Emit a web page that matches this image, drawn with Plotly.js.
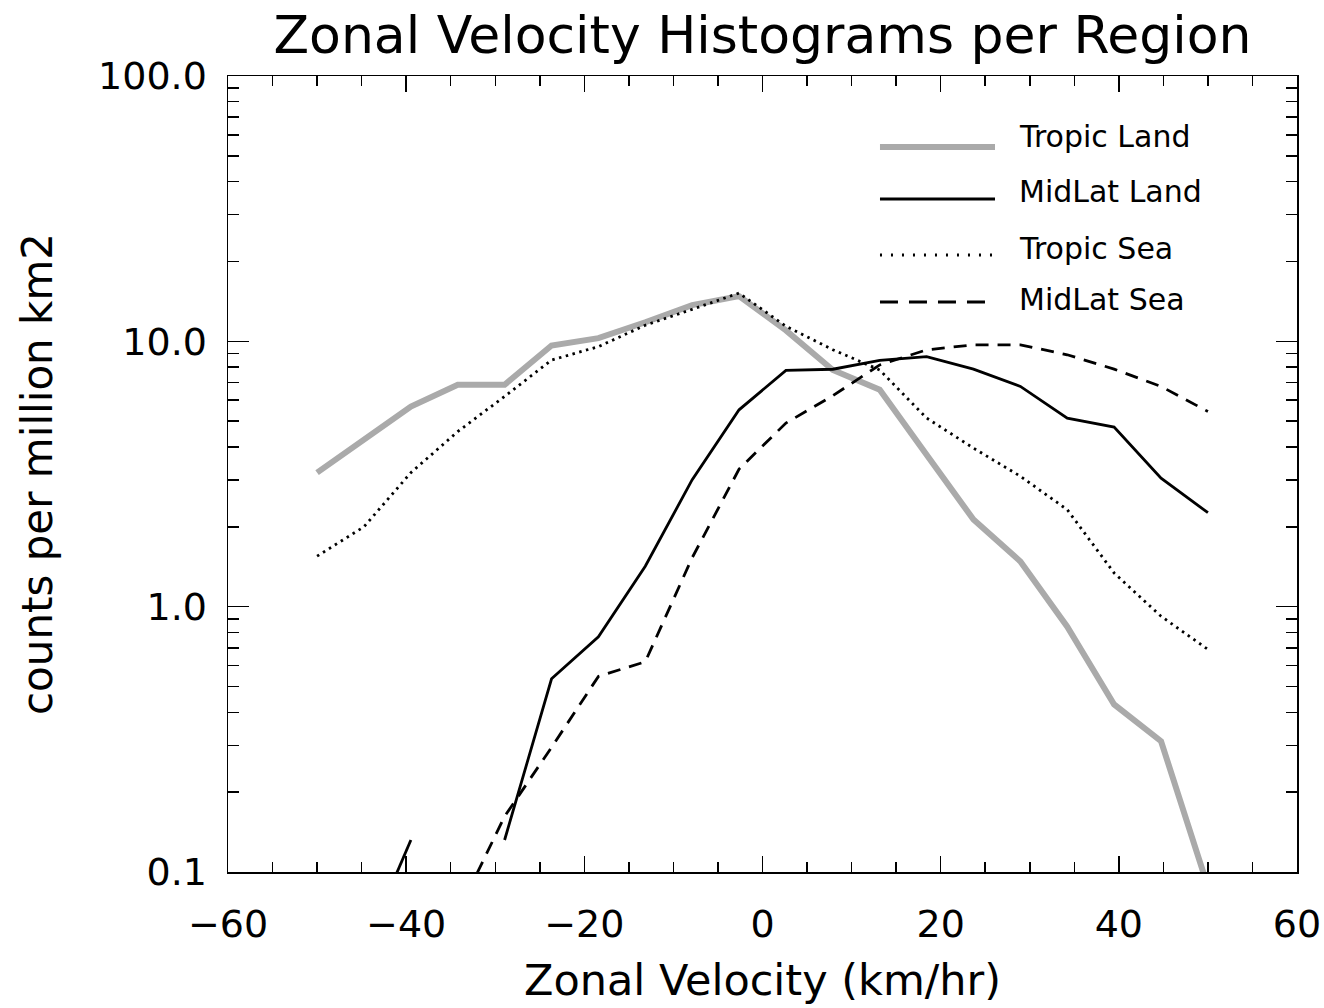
<!DOCTYPE html>
<html>
<head>
<meta charset="utf-8">
<script src="https://cdn.plot.ly/plotly-3.0.1.min.js"></script>
<style>html,body{margin:0;padding:0;background:#fff;}#chart{width:1324px;height:1008px;}</style>
</head>
<body>
<div id="chart"></div>
<script>
// Zonal velocity bin centres (km/hr)
var velocity = [-50, -44.74, -39.47, -34.21, -28.95, -23.68, -18.42, -13.16, -7.89, -2.63,
                2.63, 7.89, 13.16, 18.42, 23.68, 28.95, 34.21, 39.47, 44.74, 50];

// counts per million km2 (null = empty bin)
var tropicLand = [3.2, 4.26, 5.68, 6.86, 6.86, 9.64, 10.28, 11.8, 13.7, 14.8,
                  11.0, 7.8, 6.57, 3.74, 2.13, 1.48, 0.84, 0.428, 0.311, 0.088];
var midLatLand = [null, 0.051, 0.132, null, 0.132, 0.535, 0.77, 1.42, 3.01, 5.52,
                  7.77, 7.85, 8.47, 8.76, 7.86, 6.76, 5.13, 4.75, 3.05, 2.26];
var tropicSea  = [1.55, 2.0, 3.2, 4.57, 6.2, 8.5, 9.55, 11.5, 13.2, 15.2,
                  11.4, 9.3, 7.8, 5.14, 3.96, 3.1, 2.32, 1.34, 0.92, 0.69];
var midLatSea  = [null, null, null, 0.07, 0.162, 0.295, 0.546, 0.62, 1.53, 3.3,
                  4.92, 6.24, 8.15, 9.29, 9.7, 9.7, 8.9, 7.86, 6.76, 5.44];

var seriesNames = ["Tropic Land", "MidLat Land", "Tropic Sea", "MidLat Sea"];

var xTickVals = [-60, -40, -20, 0, 20, 40, 60];
var xTickText = ["\u221260", "\u221240", "\u221220", "0", "20", "40", "60"];
var yTickVals = [0.1, 1, 10, 100];
var yTickText = ["0.1", "1.0", "10.0", "100.0"];

var FONT = "DejaVu Sans, Verdana, sans-serif";

var styles = [
  {color: "rgb(170,170,170)", width: 6, dash: "solid"},
  {color: "black", width: 2.8, dash: "solid"},
  {color: "black", width: 2.8, dash: "2.5px,4.5px"},
  {color: "black", width: 2.8, dash: "13px,9px"}
];
var seriesData = [tropicLand, midLatLand, tropicSea, midLatSea];

var traces = seriesData.map(function (ys, i) {
  return {
    type: "scatter", mode: "lines", name: seriesNames[i],
    x: velocity, y: ys, connectgaps: false,
    line: {color: styles[i].color, width: styles[i].width, dash: styles[i].dash},
    showlegend: false, hoverinfo: "x+y+name"
  };
});

// manual legend (IDL style)
var legLineY = [0.9108, 0.8455, 0.7751, 0.7161];
var legTextY = [0.9246, 0.8543, 0.7839, 0.7186];
var shapes = [], annotations = [];
for (var i = 0; i < seriesNames.length; i++) {
  shapes.push({type: "line", xref: "paper", yref: "paper",
    x0: 0.6099, x1: 0.7175, y0: legLineY[i], y1: legLineY[i],
    line: {color: styles[i].color, width: styles[i].width,
           dash: i === 2 ? "2px,9px" : (i === 3 ? "18px,11px" : "solid")}});
  annotations.push({xref: "paper", yref: "paper", x: 0.7385, y: legTextY[i],
    xanchor: "left", yanchor: "middle", showarrow: false, text: seriesNames[i],
    font: {family: FONT, size: 30, color: "black"}});
}

var minorY = [];
[0.1, 1, 10].forEach(function (d) { for (var k = 2; k <= 9; k++) minorY.push(d * k); });

var layout = {
  width: 1324, height: 1008,
  paper_bgcolor: "white", plot_bgcolor: "white",
  margin: {l: 228, r: 27, t: 76, b: 136},
  font: {family: FONT, color: "black"},
  title: {text: "Zonal Velocity Histograms per Region", x: 0.5, xref: "paper",
          y: 0.965, yref: "container", yanchor: "middle",
          font: {family: FONT, size: 52, color: "black"}},
  xaxis: {
    range: [-60, 60], tickmode: "array", tickvals: xTickVals, ticktext: xTickText,
    ticks: "inside", ticklen: 16, tickwidth: 1.5, tickcolor: "black",
    mirror: "ticks", showline: true, linewidth: 1.5, linecolor: "black",
    showgrid: false, zeroline: false, ticklabelstandoff: 18,
    tickfont: {family: FONT, size: 38, color: "black"},
    minor: {dtick: 5, tick0: 0, ticks: "inside", ticklen: 10, tickwidth: 1.5, tickcolor: "black", showgrid: false},
    title: {text: "Zonal Velocity (km/hr)", standoff: 20, font: {family: FONT, size: 43, color: "black"}},
    automargin: false
  },
  yaxis: {
    type: "log", range: [-1, 2], tickmode: "array", tickvals: yTickVals, ticktext: yTickText,
    ticks: "inside", ticklen: 21, tickwidth: 1.5, tickcolor: "black",
    mirror: "ticks", showline: true, linewidth: 1.5, linecolor: "black",
    showgrid: false, zeroline: false, ticklabelstandoff: 12,
    tickfont: {family: FONT, size: 38, color: "black"},
    minor: {tickmode: "array", tickvals: minorY, ticks: "inside", ticklen: 11, tickwidth: 1.5, tickcolor: "black", showgrid: false},
    title: {text: "counts per million km2", standoff: 32, font: {family: FONT, size: 42, color: "black"}},
    automargin: false
  },
  shapes: shapes,
  annotations: annotations,
  showlegend: false
};

Plotly.newPlot("chart", traces, layout, {displayModeBar: false, staticPlot: true});
</script>
</body>
</html>
